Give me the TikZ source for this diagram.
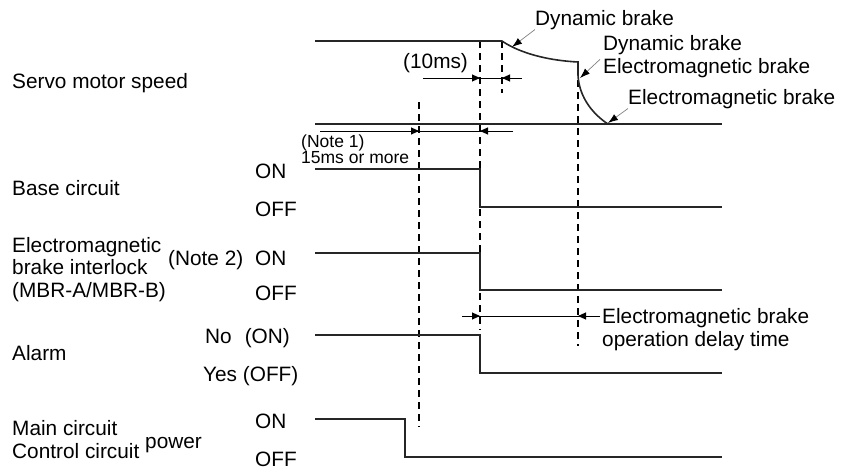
\documentclass[tikz,border=0pt]{standalone}
\usepackage{fontspec}
\setmainfont{Liberation Sans}
\usetikzlibrary{arrows.meta, calc}
\tikzset{
  sig/.style     = {line width=1.6pt, draw=black!85, line join=miter},
  guide/.style   = {line width=1.1pt, dash pattern=on 7pt off 5pt},
  dimline/.style = {line width=0.9pt},
  dimarr/.style  = {-{Triangle[length=8pt, width=7pt]}, line width=0.9pt},
  leader/.style  = {-{Latex[length=10pt, width=7pt, color=black]}, draw=gray, line width=0.7pt},
  %% text presets (base = baseline of the last line)
  lbl/.style  = {anchor=base west, inner sep=0pt, align=left, font=\fontsize{20.8}{22.5}\selectfont},
  note/.style = {lbl, font=\fontsize{17.5}{16}\selectfont},
}

\begin{document}
\begin{tikzpicture}[x=1pt, y=-1pt]
\useasboundingbox (0,0) rectangle (852,469);

%% ---- guide lines (behind the signals) ----
\draw[guide] (419,102) -- (419,427);
\draw[guide] (480,41)  -- (480,330);
\draw[guide] (502,41)  -- (502,93);
\draw[guide] (578,80)  -- (578,346);

%% ---- (1) Servo motor speed ----
\node[lbl] (speed) at (12,88) {Servo motor speed};
\draw[sig] (315,41) -- (502,41)
  .. controls (515,50) and (540,60) .. (578,62)
  -- (578,75) .. controls (579,98) and (594,115) .. (608,124);
\draw[sig] (315,124) -- (722,124);

\coordinate (dbhit)   at (512,47);
\coordinate (emhit)   at (580,78);
\coordinate (stophit) at (608,123);

\node[lbl] (dyn)   at (535,25)  {Dynamic brake};
\node[lbl] (dynem) at (603,73)  {Dynamic brake\\Electromagnetic brake};
\node[lbl] (em)    at (628,104) {Electromagnetic brake};
\draw[leader] (dyn.south west) -- (dbhit);
\draw[leader] ($(dynem.west)+(-3,3)$) -- (emhit);
\draw[leader] (em.south west) -- (stophit);

%% (10ms) window
\node[lbl] (tenms) at (403,68) {(10ms)};
\draw[dimline] (423,78) -- (522,78);
\draw[dimarr]  (423,78) -- (480,78);
\draw[dimarr]  (522,78) -- (502,78);

%% (Note 1) window
\node[note] (note1) at (301,163) {(Note 1)\\15ms or more};
\draw[dimline] (320,131) -- (513,131);
\draw[dimarr]  (320,131) -- (419,131);
\draw[dimarr]  (513,131) -- (480,131);

%% ---- (2) Base circuit ----
\node[lbl] (base)    at (12,195)  {Base circuit};
\node[lbl] (baseon)  at (255,178) {ON};
\node[lbl] (baseoff) at (255,216) {OFF};
\draw[sig] (315,169) -- (480,169) -- (480,207) -- (722,207);

%% ---- (3) Electromagnetic brake interlock ----
\node[lbl] (mbr)    at (12,297)  {Electromagnetic\\brake interlock\\(MBR-A/MBR-B)};
\node[lbl] (note2)  at (168,265) {(Note 2)};
\node[lbl] (mbron)  at (255,265) {ON};
\node[lbl] (mbroff) at (255,300) {OFF};
\draw[sig] (315,253) -- (480,253) -- (480,290) -- (722,290);

%% brake operation delay
\node[lbl] (delay) at (602,346) {Electromagnetic brake\\operation delay time};
\draw[dimline] (462,316) -- (600,316);
\draw[dimarr]  (462,316) -- (480,316);
\draw[dimarr]  (600,316) -- (578,316);

%% ---- (4) Alarm ----
\node[lbl] (alarm) at (12,360)  {Alarm};
\node[lbl] (alno)  at (205,343) {No\hspace{13pt}(ON)};
\node[lbl] (alyes) at (203,381) {Yes (OFF)};
\draw[sig] (315,335) -- (480,335) -- (480,373) -- (722,373);

%% ---- (5) Main / control circuit power ----
\node[lbl] (mains)  at (12,458)  {Main circuit\\Control circuit};
\node[lbl] (pwr)    at (145,448) {power};
\node[lbl] (pwron)  at (255,428) {ON};
\node[lbl] (pwroff) at (255,466) {OFF};
\draw[sig] (315,419) -- (405,419) -- (405,457) -- (722,457);

\end{tikzpicture}
\end{document}
